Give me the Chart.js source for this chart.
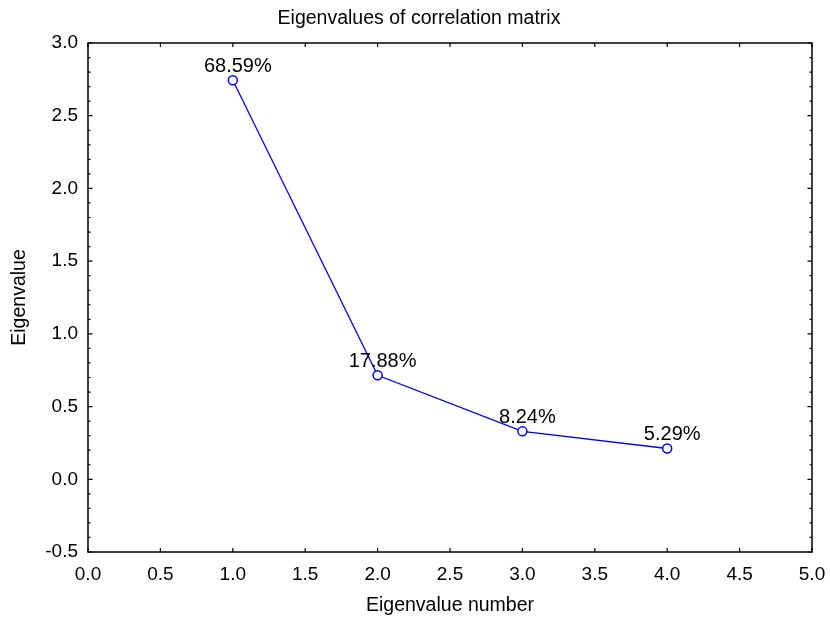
<!DOCTYPE html>
<html>

<head>
    <meta charset="UTF-8">
    <title>Eigenvalues of correlation matrix</title>
    <script src="https://cdn.jsdelivr.net/npm/chart.js"></script>
    <style>
        body { margin: 0; background: #fff; }
        #wrap { width: 830px; height: 617px; }
    </style>
</head>

<body>
    <div id="wrap"><canvas id="chart" width="830" height="617"></canvas></div>

    <script>
        // data
        var eigenNumber = [1, 2, 3, 4];
        var eigenValues = [2.7436, 0.7152, 0.3296, 0.2116];
        var pctLabels = ['68.59%', '17.88%', '8.24%', '5.29%'];

        Chart.defaults.font.family = '"Liberation Sans", Arial, sans-serif';
        Chart.defaults.color = '#000';

        // frame with inward ticks, like the original
        var framePlugin = {
            id: 'frame',
            afterDraw: function (chart) {
                var ctx = chart.ctx, a = chart.chartArea;
                var xs = chart.scales.x, ys = chart.scales.y;
                ctx.save();
                ctx.strokeStyle = '#000';
                ctx.lineWidth = 1.5;
                ctx.strokeRect(a.left, a.top, a.right - a.left, a.bottom - a.top);
                ctx.lineWidth = 1.2;
                ctx.beginPath();
                xs.ticks.forEach(function (t) {
                    var px = xs.getPixelForValue(t.value);
                    ctx.moveTo(px, a.bottom); ctx.lineTo(px, a.bottom - 4);
                    ctx.moveTo(px, a.top); ctx.lineTo(px, a.top + 4);
                });
                for (var k = -5; k <= 30; k++) {
                    var py = ys.getPixelForValue(k / 10);
                    var len = (k % 5 === 0) ? 4.5 : 2.5;
                    ctx.moveTo(a.left, py); ctx.lineTo(a.left + len, py);
                    ctx.moveTo(a.right, py); ctx.lineTo(a.right - len, py);
                }
                ctx.stroke();

                // chart title
                ctx.fillStyle = '#000';
                ctx.font = '19.5px "Liberation Sans", Arial, sans-serif';
                ctx.textAlign = 'center';
                ctx.textBaseline = 'middle';
                ctx.fillText('Eigenvalues of correlation matrix', 419, 19);
                ctx.restore();
            }
        };

        // percentage labels above each point
        var pctPlugin = {
            id: 'pct',
            afterDatasetsDraw: function (chart) {
                var ctx = chart.ctx;
                var meta = chart.getDatasetMeta(0);
                ctx.save();
                ctx.fillStyle = '#000';
                ctx.font = '20px "Liberation Sans", Arial, sans-serif';
                ctx.textAlign = 'center';
                ctx.textBaseline = 'alphabetic';
                meta.data.forEach(function (pt, i) {
                    ctx.fillText(pctLabels[i], pt.x + 5, pt.y - 8.5);
                });
                ctx.restore();
            }
        };

        var points = eigenNumber.map(function (n, i) {
            return { x: n, y: eigenValues[i] };
        });

        new Chart(document.getElementById('chart'), {
            type: 'line',
            data: {
                datasets: [{
                    data: points,
                    borderColor: '#0000ff',
                    borderWidth: 1.3,
                    tension: 0,
                    pointRadius: 4.5,
                    pointBorderWidth: 1.5,
                    pointBorderColor: '#0000ff',
                    pointBackgroundColor: '#fff'
                }]
            },
            options: {
                responsive: false,
                animation: false,
                devicePixelRatio: 1,
                layout: { padding: { top: 43, right: 18, left: 0, bottom: 0 } },
                plugins: {
                    legend: { display: false },
                    tooltip: { enabled: false },
                    title: { display: false }
                },
                scales: {
                    x: {
                        type: 'linear',
                        min: 0,
                        max: 5,
                        grid: { display: false, drawTicks: false },
                        border: { display: false },
                        ticks: {
                            stepSize: 0.5,
                            padding: 11,
                            font: { size: 19 },
                            callback: function (v) { return v.toFixed(1); }
                        },
                        title: {
                            display: true,
                            text: 'Eigenvalue number',
                            font: { size: 19.5 },
                            padding: { top: 0, bottom: 0 }
                        },
                        afterFit: function (s) {
                            s.height = 65;
                            s.paddingLeft = 0;
                            s.paddingRight = 0;
                        }
                    },
                    y: {
                        min: -0.5,
                        max: 3.0,
                        grid: { display: false, drawTicks: false },
                        border: { display: false },
                        ticks: {
                            stepSize: 0.5,
                            padding: 10,
                            font: { size: 19 },
                            callback: function (v) { return v.toFixed(1); }
                        },
                        title: {
                            display: true,
                            text: 'Eigenvalue',
                            font: { size: 19.5 },
                            padding: { top: 8, bottom: 0 }
                        },
                        afterFit: function (s) {
                            s.width = 88;
                            s.paddingTop = 0;
                            s.paddingBottom = 0;
                        }
                    }
                }
            },
            plugins: [framePlugin, pctPlugin]
        });
    </script>
</body>

</html>
